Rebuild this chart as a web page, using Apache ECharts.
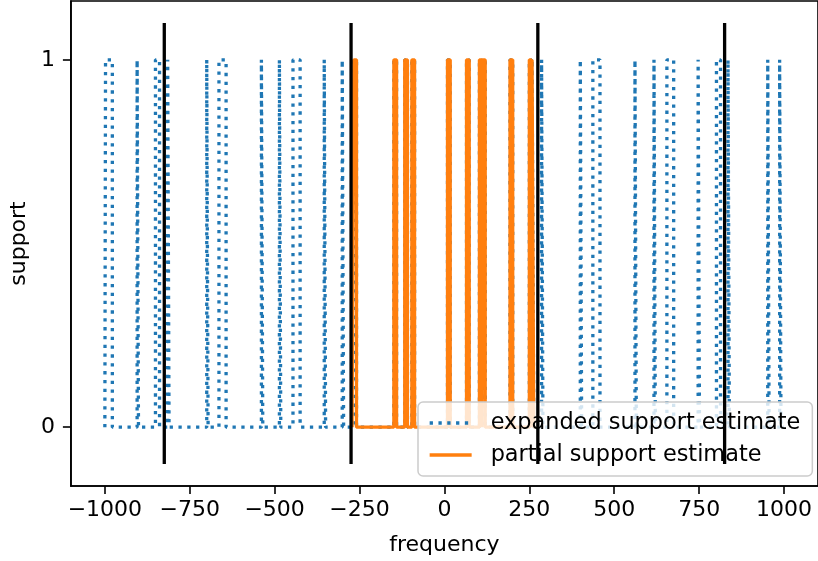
<!DOCTYPE html>
<html>
<head>
<meta charset="utf-8">
<script src="https://cdn.jsdelivr.net/npm/echarts@6/dist/echarts.min.js"></script>
<style>html,body{margin:0;padding:0;background:#fff}#c{width:818px;height:561px}</style>
</head>
<body>
<div id="c"></div>
<script>
// ---- data ----
const xTicks = [-1000, -750, -500, -250, 0, 250, 500, 750, 1000];
const yTicks = [0, 1];
// expanded support estimate: intervals [rise, fall] where support = 1
const blueStart = -1000, blueEnd = 1000;
const blueSpikes = [
  [-998,-978], [-905,-901], [-851,-839], [-815,-811], [-700,-696], [-664,-643],
  [-539,-535], [-486,-482], [-446,-425], [-354,-350], [-301,-297],
  [-267,-259], [-149,-141], [-117,-109], [-96,-88], [9,17], [65,73],
  [103,110], [112,120], [193,201], [250,256], [258,263],
  [286,290], [400,404], [437,458], [561,565], [617,621], [655,675],
  [747,751], [801,813], [835,839], [952,956], [987,991]
];
// partial support estimate
const orangeStart = -272, orangeEnd = 270;
const orangeSpikes = [
  [-267,-259], [-149,-141], [-117,-109], [-96,-88], [9,17], [65,73],
  [103,110], [112,120], [193,201], [250,256], [258,263]
];
// vertical black reference lines
const cutoffs = [-825, -275, 275, 825];
const cutLow = -0.1, cutHigh = 1.1;

function toPoints(start, end, spikes) {
  const pts = [[start, 0]];
  spikes.forEach(([a, b]) => { pts.push([a, 0], [a, 1], [b, 1], [b, 0]); });
  pts.push([end, 0]);
  return pts;
}

const FONT = 'DejaVu Sans';
const chart = echarts.init(document.getElementById('c'), null, {renderer: 'canvas'});
const series = [
  {
    name: 'expanded support estimate', type: 'line', symbol: 'none', silent: true,
    data: toPoints(blueStart, blueEnd, blueSpikes),
    lineStyle: {color: '#1f77b4', width: 3.3, type: [3.3, 5.5], cap: 'butt'},
    itemStyle: {color: '#1f77b4', opacity: 0}, z: 2
  },
  {
    name: 'partial support estimate', type: 'line', symbol: 'none', silent: true,
    data: toPoints(orangeStart, orangeEnd, orangeSpikes),
    lineStyle: {color: '#ff7f0e', width: 3.3, type: 'solid'},
    itemStyle: {color: '#ff7f0e', opacity: 0}, z: 3
  }
];
cutoffs.forEach((c, i) => {
  series.push({
    name: 'cut' + i, type: 'line', symbol: 'none', silent: true,
    data: [[c, cutLow], [c, cutHigh]],
    lineStyle: {color: '#000', width: 3.3}, z: 4
  });
});

chart.setOption({
  animation: false,
  backgroundColor: '#fff',
  grid: {left: 70, right: -2, top: 1, bottom: 74, show: true, borderColor: '#000', borderWidth: 1.6, containLabel: false},
  legend: {
    data: ['expanded support estimate', 'partial support estimate'],
    orient: 'vertical', left: 418, top: 402,
    padding: [10, 12, 10, 10],
    itemWidth: 42, itemHeight: 14, itemGap: 10,
    itemStyle: {opacity: 0},
    lineStyle: {width: 3.3},
    backgroundColor: 'rgba(255,255,255,0.8)',
    borderColor: '#cccccc', borderWidth: 1.5, borderRadius: 5,
    textStyle: {fontFamily: FONT, fontSize: 22.4, color: '#000', lineHeight: 22, padding: [0, 0, 0, 14]}
  },
  xAxis: {
    type: 'value', min: -1100, max: 1100,
    name: 'frequency', nameLocation: 'middle', nameGap: 48,
    nameTextStyle: {fontFamily: FONT, fontSize: 22, color: '#000'},
    axisLine: {show: true, onZero: false, lineStyle: {color: '#000', width: 1.6}},
    axisTick: {show: true, inside: false, length: 8, customValues: xTicks, lineStyle: {color: '#000', width: 1.6}},
    axisLabel: {show: true, margin: 13, customValues: xTicks, fontFamily: FONT, fontSize: 22, color: '#000',
      formatter: v => String(v).replace('-', '\u2212')},
    splitLine: {show: false}
  },
  yAxis: {
    type: 'value', min: -0.16, max: 1.16,
    name: 'support', nameLocation: 'middle', nameGap: 32, nameRotate: 90,
    nameTextStyle: {fontFamily: FONT, fontSize: 22, color: '#000'},
    axisLine: {show: true, onZero: false, lineStyle: {color: '#000', width: 1.6}},
    axisTick: {show: true, inside: false, length: 8, customValues: yTicks, lineStyle: {color: '#000', width: 1.6}},
    axisLabel: {show: true, margin: 16, customValues: yTicks, fontFamily: FONT, fontSize: 22, color: '#000'},
    splitLine: {show: false}
  },
  series: series
});
</script>
</body>
</html>
